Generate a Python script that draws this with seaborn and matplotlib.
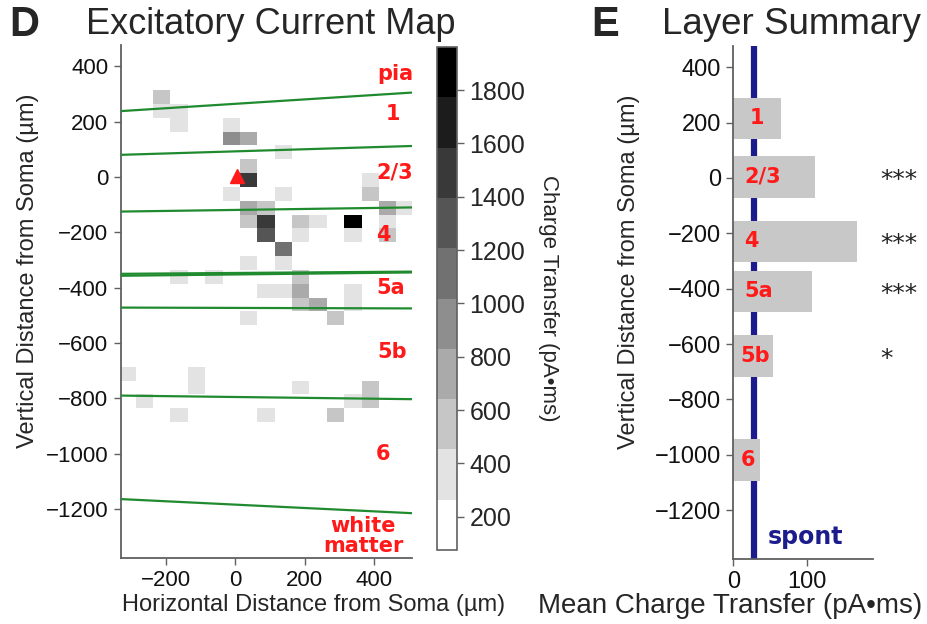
import numpy as np
import pandas as pd
import matplotlib
matplotlib.use("Agg")
import matplotlib.pyplot as plt
from matplotlib.colors import ListedColormap
import seaborn as sns

# ---------------- data ----------------
# Photostimulation sites (50 µm grid), centre coordinates in µm relative to the soma
site_x = [-211, -211, -161, -161,
          -11, -11, 39, 139, 39,
          39, 389,
          -11, 139, 389,
          39, 89, 439, 489,
          39, 89, 189, 239, 339, 439,
          89, 189, 339, 439,
          139, 39, 139,
          -161, -61, 189,
          89, 139, 189, 339,
          189, 239, 339,
          39, 289,
          -311, -111,
          -111, 189, 389,
          -261, 339, 389,
          -161, 89, 289]
site_y = [289, 239, 239, 189,
          189, 139, 139, 89, 39,
          -11, -11,
          -61, -61, -61,
          -111, -111, -111, -111,
          -161, -161, -161, -161, -161, -161,
          -211, -211, -211, -211,
          -261, -311, -311,
          -361, -361, -361,
          -411, -411, -411, -411,
          -461, -461, -461,
          -511, -511,
          -711, -711,
          -761, -761, -761,
          -811, -811, -811,
          -861, -861, -861]
# Mean evoked charge transfer at each site (pA·ms)
charge = [560, 340, 330, 350,
          360, 930, 740, 330, 550,
          1490, 330,
          340, 330, 580,
          720, 540, 740, 320,
          500, 1500, 560, 340, 1890, 330,
          1310, 330, 340, 530,
          1110, 330, 340,
          330, 340, 540,
          330, 340, 720, 330,
          560, 760, 330,
          330, 540,
          330, 330,
          340, 330, 560,
          330, 340, 560,
          330, 330, 560]

# Laminar boundaries traced across the map (y in µm at the left / right edge)
boundary_x = [-330, 508]
boundary_left = [238, 80, -125, -350, -357, -472, -790, -1164]
boundary_right = [305, 112, -110, -342, -345, -475, -803, -1215]

# Layer names written on the map
map_labels = ["pia", "1", "2/3", "4", "5a", "5b", "6", "white\nmatter"]
map_label_x = [460, 453, 458, 426, 449, 451, 426, 368]
map_label_y = [372, 228, 16, -210, -401, -631, -1001, -1296]

# Layer summary
layers = ["1", "2/3", "4", "5a", "5b", "6"]
layer_center = [215, 4, -229, -410, -643, -1020]
layer_mean = [65, 111, 169, 107, 54, 36]
layer_label_x = [22, 15, 15, 15, 10, 10]
layer_sig = ["", "***", "***", "***", "*", ""]
spont_mean = 28

cbar_ticks = [200, 400, 600, 800, 1000, 1200, 1400, 1600, 1800]

# ---------------- style ----------------
sns.set_theme(style="ticks")
plt.rcParams["font.family"] = ["Liberation Sans", "DejaVu Sans"]
plt.rcParams["axes.unicode_minus"] = True
label_font = ["DejaVu Sans"]

W, H = 928, 624
fig = plt.figure(figsize=(W / 100, H / 100), dpi=100)


def box(l, t, r, b):
    return [l / W, 1 - b / H, (r - l) / W, (b - t) / H]


ax1 = fig.add_axes(box(120.7, 45, 411.7, 558))
cax = fig.add_axes(box(437, 47, 457, 550))
ax2 = fig.add_axes(box(733.3, 46, 873, 559))

spine_col = "#606060"
red = "#ff1a1a"
green = "#1f8b2e"
navy = "#1c1c8c"

# ---------------- map ----------------
sites = pd.DataFrame({"x": site_x, "y": site_y, "charge": charge})
grays = ListedColormap([str(v) for v in np.linspace(1.0, 0.0, 10)])
sns.histplot(data=sites, x="x", y="y", weights="charge",
             binwidth=50, binrange=((-336, 514), (-886, 314)),
             cmap=grays, vmin=75, vmax=1962,
             cbar=True, cbar_ax=cax,
             cbar_kws=dict(ticks=cbar_ticks), ax=ax1)

for yl, yr in zip(boundary_left, boundary_right):
    ax1.plot(boundary_x, [yl, yr], color=green, lw=1.6, zorder=3)

ax1.plot([5], [5], marker="^", color=red, ms=10, ls="none", zorder=4)

for name, lx, ly in zip(map_labels, map_label_x, map_label_y):
    ax1.text(lx, ly, name, color=red, fontsize=15, fontweight="bold",
             family=label_font, ha="center", va="center",
             linespacing=1.0, zorder=5)

ax1.set_xlim(-329, 508)
ax1.set_ylim(-1377, 477)
ax1.set_xticks([-200, 0, 200, 400])
ax1.set_yticks([400, 200, 0, -200, -400, -600, -800, -1000, -1200])
ax1.set_xlabel("Horizontal Distance from Soma (µm)", fontsize=17)
ax1.set_ylabel("Vertical Distance from Soma (µm)", fontsize=17)
ax1.xaxis.set_label_coords(0.664, -0.07)
ax1.yaxis.set_label_coords(-0.28, 0.56)

# colour bar
cax.tick_params(labelsize=18, length=5, width=1, color=spine_col, pad=4)
for sp in cax.spines.values():
    sp.set_edgecolor(spine_col)
    sp.set_linewidth(1.2)
cax.set_ylabel("Charge Transfer (pA•ms)", fontsize=16, rotation=270,
               labelpad=24)

# ---------------- layer summary ----------------
ax2.axvline(spont_mean, color=navy, lw=4.5, zorder=1)
bar_height = 150
native_gap = np.diff(np.sort(layer_center)).min()
sns.barplot(x=layer_mean, y=layer_center, orient="y", native_scale=True,
            width=bar_height / native_gap, color="#c8c8c8", saturation=1,
            errorbar=None, ax=ax2)
for p in ax2.patches:
    p.set_zorder(2)
    p.set_edgecolor("none")

for name, lx, cy in zip(layers, layer_label_x, layer_center):
    ax2.text(lx, cy, name, color=red, fontsize=15, fontweight="bold",
             family=label_font, ha="left", va="center", zorder=5)
for sig, cy in zip(layer_sig, layer_center):
    if sig:
        ax2.text(200, cy - 10, sig, color="#222222", fontsize=18,
                 family=label_font, ha="left", va="center", clip_on=False)
ax2.text(47, -1296, "spont", color=navy, fontsize=17, fontweight="bold",
         family=label_font, ha="left", va="center", zorder=5)

ax2.set_xlim(0, 190.6)
ax2.set_ylim(-1377, 477)
ax2.set_xticks([0, 100])
ax2.set_yticks([400, 200, 0, -200, -400, -600, -800, -1000, -1200])
ax2.set_xlabel("Mean Charge Transfer (pA•ms)", fontsize=20)
ax2.set_ylabel("Vertical Distance from Soma (µm)", fontsize=17)
ax2.xaxis.set_label_coords(-0.024, -0.066)
ax2.yaxis.set_label_coords(-0.67, 0.56)

for ax, fs in ((ax1, 16), (ax2, 17)):
    sns.despine(ax=ax)
    for side in ("left", "bottom"):
        ax.spines[side].set_color(spine_col)
        ax.spines[side].set_linewidth(1.3)
    ax.tick_params(labelsize=fs, length=5, width=1, color=spine_col,
                   pad=4, labelcolor="#111111")

# ---------------- titles ----------------
fig.text(9 / W, 1 - 25 / H, "D", fontsize=30, fontweight="bold",
         ha="left", va="center")
fig.text(86 / W, 1 - 25 / H, "Excitatory Current Map", fontsize=26,
         ha="left", va="center")
fig.text(591 / W, 1 - 25 / H, "E", fontsize=30, fontweight="bold",
         ha="left", va="center")
fig.text(662 / W, 1 - 25 / H, "Layer Summary", fontsize=26.5,
         ha="left", va="center")

fig.savefig("out.png", dpi=100)
